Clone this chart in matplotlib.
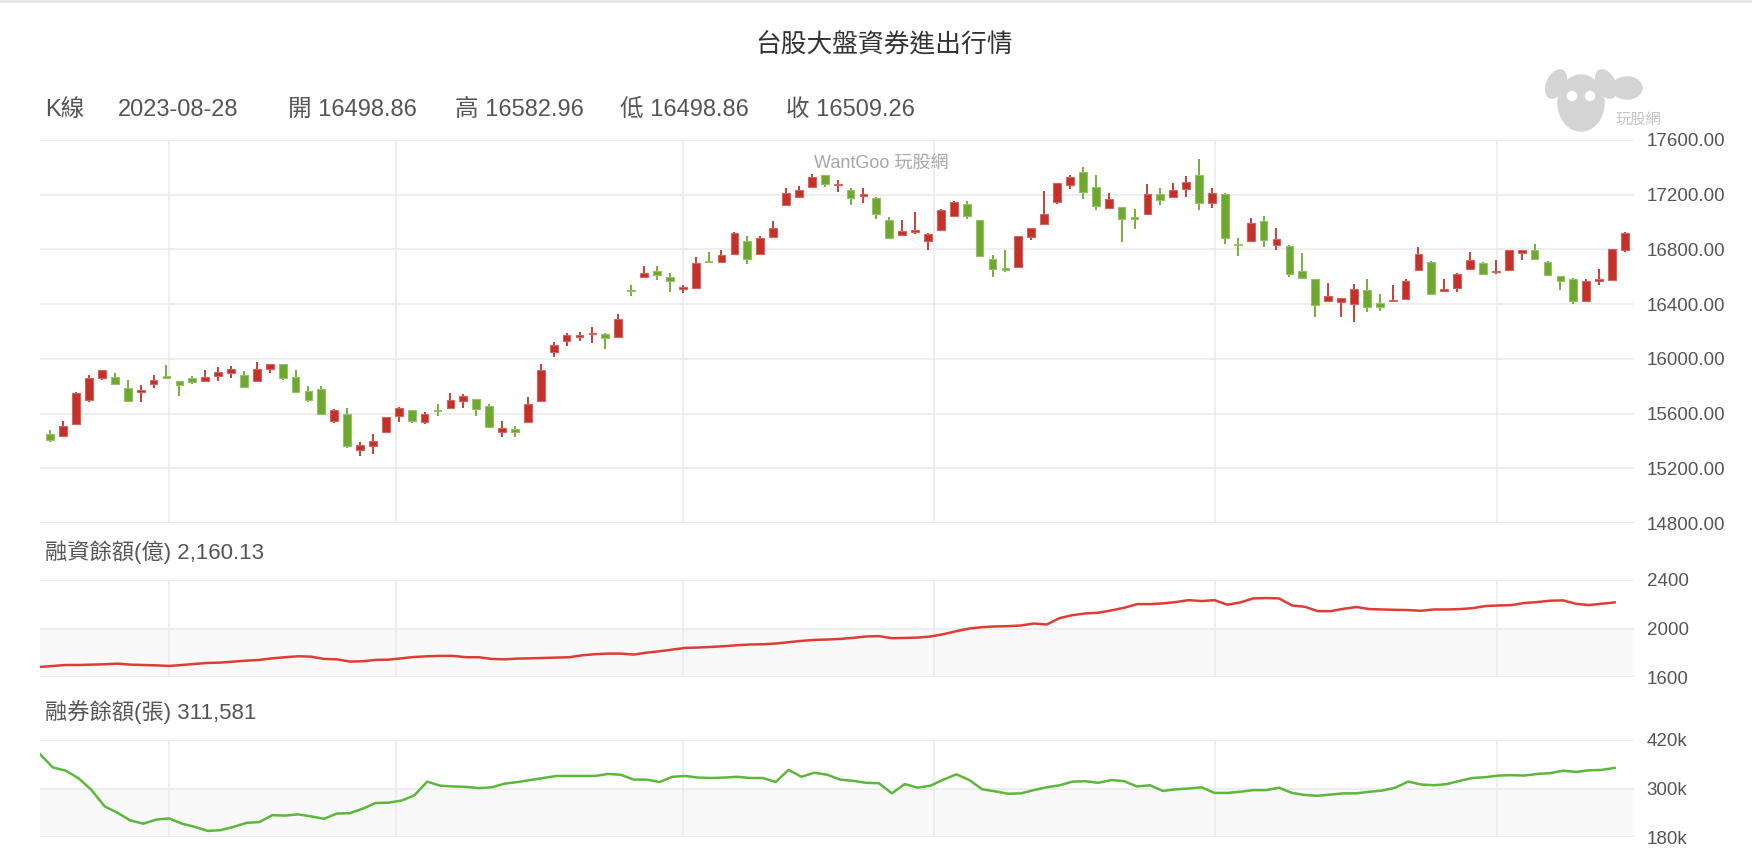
import numpy as np
import matplotlib
matplotlib.use("Agg")
import matplotlib.pyplot as plt
from matplotlib.patches import Ellipse

plt.rcParams['font.family'] = ['Liberation Sans', 'Noto Sans CJK TC', 'DejaVu Sans']

# ---- data ----
open_ = [15449, 15435, 15522, 15698, 15863, 15871, 15788, 15761, 15817, 15868,
         15836, 15858, 15841, 15875, 15900, 15880, 15841, 15924, 15963, 15871,
         15768, 15776, 15547, 15600, 15337, 15362, 15466, 15583, 15625, 15537,
         15622, 15642, 15690, 15707, 15659, 15464, 15488, 15537, 15690, 16051,
         16131, 16158, 16182, 16185, 16158, 16501, 16601, 16642, 16596, 16513,
         16518, 16711, 16706, 16764, 16864, 16764, 16893, 17127, 17185, 17256,
         17344, 17271, 17237, 17188, 17178, 17013, 16903, 16925, 16859, 16940,
         17044, 17132, 17013, 16733, 16664, 16669, 16891, 16986, 17147, 17268,
         17363, 17259, 17103, 17108, 17035, 17056, 17203, 17185, 17242, 17344,
         17137, 17203, 16837, 16859, 17005, 16835, 16828, 16642, 16584, 16423,
         16414, 16401, 16501, 16409, 16423, 16436, 16647, 16711, 16494, 16518,
         16660, 16698, 16633, 16647, 16776, 16793, 16711, 16604, 16584, 16423,
         16567, 16577, 16798]
high = [15483, 15544, 15755, 15885, 15920, 15895, 15849, 15812, 15885, 15953,
        15838, 15873, 15919, 15944, 15946, 15909, 15980, 15965, 15965, 15917,
        15802, 15805, 15637, 15639, 15393, 15452, 15578, 15651, 15627, 15615,
        15673, 15754, 15746, 15710, 15673, 15544, 15508, 15720, 15966, 16126,
        16187, 16197, 16233, 16187, 16328, 16538, 16679, 16679, 16630, 16543,
        16747, 16781, 16796, 16925, 16898, 16900, 17005, 17249, 17261, 17349,
        17346, 17307, 17249, 17249, 17180, 17039, 17018, 17076, 16923, 17095,
        17156, 17156, 17015, 16762, 16796, 16898, 16956, 17229, 17285, 17346,
        17405, 17346, 17215, 17110, 17098, 17276, 17249, 17288, 17334, 17463,
        17249, 17215, 16886, 17030, 17042, 16959, 16830, 16772, 16586, 16552,
        16447, 16550, 16586, 16477, 16538, 16586, 16820, 16713, 16586, 16630,
        16784, 16711, 16725, 16796, 16796, 16840, 16713, 16606, 16594, 16584,
        16655, 16806, 16925]
low = [15393, 15430, 15518, 15686, 15846, 15815, 15688, 15686, 15790, 15862,
       15732, 15815, 15840, 15839, 15861, 15790, 15840, 15897, 15846, 15757,
       15686, 15593, 15532, 15349, 15289, 15301, 15464, 15535, 15532, 15522,
       15583, 15640, 15642, 15581, 15500, 15430, 15430, 15535, 15688, 16014,
       16097, 16133, 16119, 16073, 16155, 16457, 16600, 16577, 16491, 16482,
       16515, 16704, 16704, 16762, 16691, 16762, 16891, 17125, 17183, 17254,
       17254, 17217, 17127, 17139, 17020, 16879, 16901, 16915, 16798, 16938,
       17042, 17020, 16750, 16599, 16635, 16667, 16867, 16984, 17134, 17244,
       17171, 17088, 17100, 16854, 16947, 17054, 17122, 17183, 17183, 17088,
       17100, 16842, 16750, 16857, 16820, 16796, 16599, 16587, 16306, 16421,
       16306, 16270, 16343, 16353, 16414, 16433, 16645, 16470, 16492, 16489,
       16657, 16621, 16621, 16645, 16725, 16728, 16609, 16506, 16399, 16421,
       16543, 16575, 16781]
close = [15410, 15508, 15751, 15858, 15917, 15817, 15690, 15771, 15849, 15863,
         15807, 15829, 15871, 15905, 15929, 15793, 15927, 15963, 15863, 15759,
         15700, 15595, 15627, 15362, 15369, 15403, 15576, 15639, 15549, 15600,
         15617, 15698, 15729, 15630, 15503, 15496, 15464, 15668, 15917, 16102,
         16177, 16177, 16187, 16155, 16289, 16494, 16628, 16613, 16567, 16521,
         16698, 16706, 16759, 16922, 16730, 16886, 16957, 17215, 17237, 17332,
         17280, 17276, 17176, 17205, 17059, 16881, 16935, 16944, 16910, 17086,
         17144, 17044, 16752, 16660, 16650, 16896, 16954, 17061, 17283, 17329,
         17220, 17117, 17166, 17022, 17025, 17203, 17161, 17237, 17295, 17137,
         17215, 16881, 16832, 16993, 16869, 16876, 16623, 16589, 16392, 16457,
         16445, 16513, 16379, 16379, 16431, 16569, 16769, 16472, 16513, 16618,
         16723, 16623, 16642, 16793, 16793, 16730, 16611, 16567, 16423, 16569,
         16584, 16803, 16923]

# 融資餘額 (億)
margin = [1683, 1691, 1699, 1699, 1702, 1705, 1710, 1702, 1699, 1696,
          1691, 1699, 1708, 1716, 1719, 1727, 1735, 1741, 1754, 1763,
          1771, 1768, 1749, 1746, 1727, 1730, 1741, 1743, 1754, 1765,
          1771, 1774, 1774, 1763, 1763, 1749, 1746, 1752, 1754, 1757,
          1760, 1763, 1779, 1788, 1793, 1793, 1785, 1801, 1812, 1826,
          1840, 1843, 1848, 1854, 1862, 1868, 1870, 1876, 1887, 1898,
          1906, 1909, 1914, 1923, 1934, 1937, 1920, 1922, 1925, 1934,
          1953, 1978, 2000, 2011, 2017, 2019, 2025, 2041, 2033, 2086,
          2110, 2124, 2130, 2149, 2171, 2201, 2201, 2207, 2218, 2234,
          2226, 2234, 2196, 2215, 2248, 2251, 2248, 2190, 2179, 2143,
          2143, 2163, 2177, 2160, 2157, 2154, 2152, 2146, 2157, 2157,
          2160, 2168, 2185, 2190, 2193, 2210, 2218, 2229, 2232, 2204,
          2193, 2204, 2215]

# 融券餘額 (千張)
short = [385, 352, 344, 325, 296, 256, 240, 221, 213, 223,
         226, 213, 205, 195, 197, 205, 215, 217, 234, 233,
         236, 231, 225, 238, 239, 250, 264, 265, 270, 283,
         317, 307, 305, 304, 301, 303, 312, 316, 321, 326,
         331, 331, 331, 331, 336, 334, 322, 322, 316, 329,
         331, 327, 326, 327, 329, 326, 326, 316, 346, 329,
         339, 334, 322, 319, 314, 313, 288, 311, 302, 307,
         322, 335, 321, 298, 293, 287, 288, 296, 303, 308,
         317, 318, 314, 321, 318, 305, 308, 294, 298, 300,
         303, 289, 289, 292, 296, 296, 302, 289, 284, 282,
         285, 288, 288, 292, 295, 302, 317, 310, 308, 311,
         319, 326, 328, 332, 333, 332, 336, 338, 344, 341,
         345, 346, 351]

month_lines = [9.2, 26.8, 49.0, 68.5, 90.2, 112.1]
price_ticks = [14800, 15200, 15600, 16000, 16400, 16800, 17200, 17600]
margin_ticks = [1600, 2000, 2400]
short_ticks = [180, 300, 420]

info = [('K線', 45), ('2023-08-28', 118), ('開 16498.86', 288),
        ('高 16582.96', 455), ('低 16498.86', 620), ('收 16509.26', 786)]

# ---- styling ----
RED = '#c4302a'
RED_EDGE = '#d6645e'
GREEN = '#6ea830'
GREEN_EDGE = '#94c266'
GRID = '#ebebeb'
TXT = '#555555'

W, H = 1752, 856
fig = plt.figure(figsize=(W / 100, H / 100), dpi=100)

# overlay in pixel coords for free text
ov = fig.add_axes([0, 0, 1, 1])
ov.set_xlim(0, W)
ov.set_ylim(H, 0)
ov.axis('off')


def px_axes(top, bottom, left=40, right=1634):
    return fig.add_axes([left / W, 1 - bottom / H, (right - left) / W, (bottom - top) / H])


ax = px_axes(140, 523)
ax2 = px_axes(580, 677)
ax3 = px_axes(740, 837)

n = len(close)
x = np.arange(n)
xl = x - 0.8  # lines start at the left edge

for a in (ax, ax2, ax3):
    a.set_xlim(-0.8, n - 0.3)
    a.set_xticks(month_lines)
    a.set_xticklabels([])
    a.grid(True, color=GRID, linewidth=1.2)
    a.set_axisbelow(True)
    for s in a.spines.values():
        s.set_visible(False)
    a.yaxis.tick_right()
    a.tick_params(axis='both', length=0)
    a.tick_params(axis='y', pad=9, labelsize=13.5, labelcolor=TXT)
    a.set_facecolor('none')

# candlesticks
o = np.array(open_)
c = np.array(close)
hi = np.array(high)
lo = np.array(low)
up = c >= o
cols = np.where(up, RED, GREEN)
edges = np.where(up, RED_EDGE, GREEN_EDGE)
bottoms = np.minimum(o, c)
heights = np.maximum(np.abs(c - o), 10)
ax.vlines(x, lo, hi, colors=cols, linewidth=1.3, zorder=2)
ax.bar(x, heights, bottom=bottoms, width=0.6, color=cols, edgecolor=edges,
       linewidth=0.8, zorder=3)
ax.set_ylim(price_ticks[0], price_ticks[-1])
ax.set_yticks(price_ticks)
ax.set_yticklabels(['%.2f' % v for v in price_ticks])
ax.text(0.528, 0.94, 'WantGoo 玩股網', transform=ax.transAxes, ha='center', va='center',
        fontsize=13, color='#a8a8a8')

# margin balance
ax2.axhspan(margin_ticks[0], margin_ticks[1], color='#f9f9f9', zorder=0)
ax2.plot(xl, margin, color='#e03c36', linewidth=1.8, zorder=3)
ax2.set_ylim(margin_ticks[0], margin_ticks[-1])
ax2.set_yticks(margin_ticks)
ax2.set_yticklabels([str(v) for v in margin_ticks])

# short balance
short_v = np.array(short) * 1000
ax3.axhspan(short_ticks[0] * 1000, short_ticks[1] * 1000, color='#f9f9f9', zorder=0)
ax3.plot(xl, short_v, color='#5cb83a', linewidth=1.8, zorder=3)
ax3.set_ylim(short_ticks[0] * 1000, short_ticks[-1] * 1000)
ax3.set_yticks([v * 1000 for v in short_ticks])
ax3.set_yticklabels(['%dk' % v for v in short_ticks])

# texts
ov.plot([0, W], [1, 1], color='#e6e6e6', linewidth=2)
ov.text(884, 45, '台股大盤資券進出行情', ha='center', va='center', fontsize=18.5, color='#333333')
for label, px in info:
    ov.text(px, 110, label, ha='left', va='center', fontsize=17, color=TXT)
ov.text(45, 552, '融資餘額(億) 2,160.13', ha='left', va='center', fontsize=16, color=TXT)
ov.text(45, 712, '融券餘額(張) 311,581', ha='left', va='center', fontsize=16, color=TXT)

# logo
logo = '#d4d4d4'
ov.add_patch(Ellipse((1581, 103), 46, 56, color=logo))
ov.add_patch(Ellipse((1556, 84), 18, 30, angle=25, color=logo))
ov.add_patch(Ellipse((1606, 84), 18, 30, angle=-25, color=logo))
ov.add_patch(Ellipse((1627, 88), 30, 22, color=logo))
ov.add_patch(Ellipse((1572, 96), 9, 9, color='white'))
ov.add_patch(Ellipse((1590, 96), 9, 9, color='white'))
ov.text(1638, 120, '玩股網', ha='center', va='center', fontsize=11, color='#c4c4c4')

fig.savefig('out.png', dpi=100, facecolor='white')
